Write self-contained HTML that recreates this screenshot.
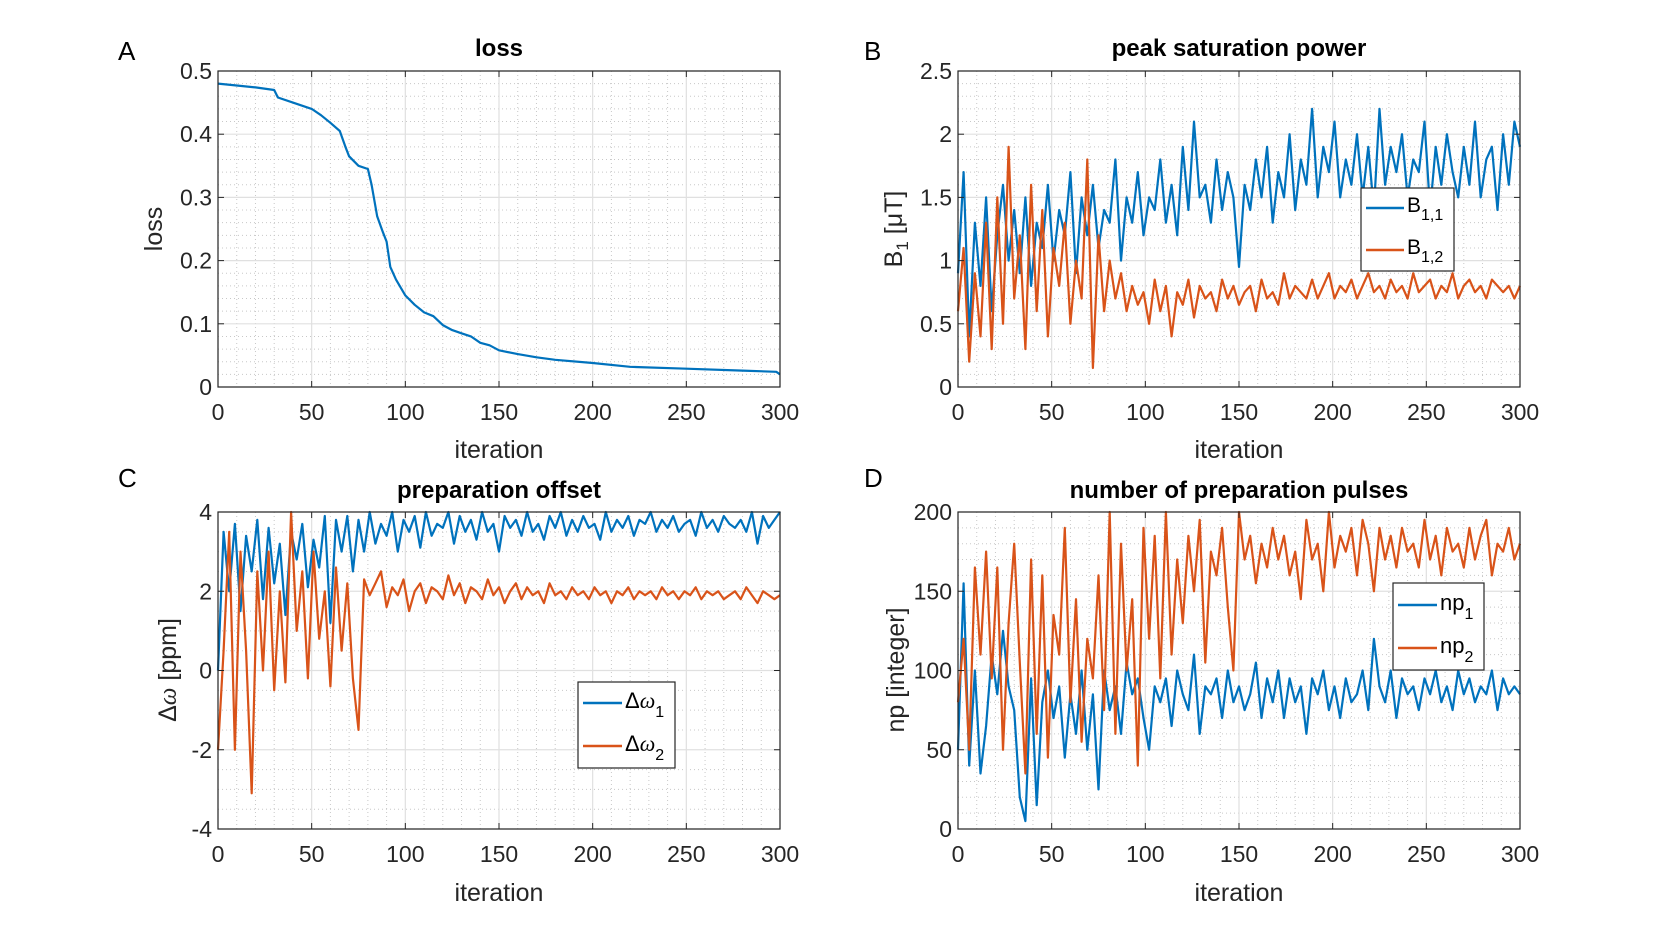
<!DOCTYPE html>
<html><head><meta charset="utf-8"><style>
body{margin:0;background:#fff;}
svg{display:block;font-family:"Liberation Sans",sans-serif;}
</style></head><body>
<svg id="fig" width="1680" height="933" viewBox="0 0 1680 933"></svg>
<script>
const lossIter=[0,10,20,30,32,40,50,55,60,65,68,70,75,80,82,85,88,90,92,95,100,105,110,115,120,125,130,135,140,145,150,160,170,180,200,220,250,280,298,300];
const lossVals=[0.48,0.477,0.474,0.47,0.458,0.45,0.44,0.43,0.418,0.405,0.38,0.365,0.35,0.345,0.32,0.27,0.245,0.23,0.19,0.17,0.145,0.13,0.118,0.112,0.098,0.09,0.085,0.08,0.07,0.066,0.058,0.052,0.047,0.043,0.038,0.032,0.029,0.026,0.024,0.02];
const b11=[0.9,1.7,0.4,1.3,0.8,1.5,0.6,1.2,1.6,1.0,1.4,0.9,1.5,0.8,1.3,1.1,1.6,1.0,1.4,1.2,1.7,0.9,1.5,1.2,1.6,1.1,1.4,1.3,1.8,1.0,1.5,1.3,1.7,1.2,1.5,1.4,1.8,1.3,1.6,1.2,1.9,1.4,2.1,1.5,1.6,1.3,1.8,1.4,1.7,1.5,0.95,1.6,1.4,1.8,1.5,1.9,1.3,1.7,1.5,2.0,1.4,1.8,1.6,2.2,1.5,1.9,1.7,2.1,1.5,1.8,1.6,2.0,1.5,1.9,1.4,2.2,1.6,1.9,1.7,2.0,1.5,1.8,1.7,2.1,1.4,1.9,1.6,2.0,1.7,1.5,1.9,1.6,2.1,1.5,1.8,1.9,1.4,2.0,1.6,2.1,1.9];
const b12=[0.6,1.1,0.2,0.9,0.4,1.3,0.3,1.5,0.5,1.9,0.7,1.2,0.3,1.6,0.6,1.4,0.4,1.1,0.8,1.3,0.5,1.0,0.7,1.8,0.15,1.2,0.6,1.0,0.7,0.9,0.6,0.8,0.65,0.75,0.5,0.85,0.6,0.8,0.4,0.75,0.65,0.85,0.55,0.8,0.7,0.75,0.6,0.85,0.7,0.8,0.65,0.75,0.8,0.6,0.85,0.7,0.75,0.65,0.9,0.7,0.8,0.75,0.7,0.85,0.7,0.8,0.9,0.7,0.8,0.75,0.85,0.7,0.8,0.9,0.75,0.8,0.7,0.85,0.75,0.8,0.7,0.9,0.75,0.8,0.85,0.7,0.8,0.75,0.9,0.7,0.8,0.85,0.75,0.8,0.7,0.85,0.8,0.75,0.8,0.7,0.8];
const dw1=[0,3.5,2.0,3.7,1.5,3.4,2.5,3.8,1.8,3.6,2.2,3.2,1.4,3.5,2.8,3.7,2.1,3.3,2.6,3.9,1.2,3.8,3.0,3.9,2.5,3.8,3.0,4.0,3.2,3.7,3.4,4.0,3.0,3.8,3.5,3.9,3.1,4.0,3.4,3.7,3.6,4.0,3.2,3.9,3.5,3.8,3.3,4.0,3.5,3.7,3.0,3.9,3.6,3.8,3.4,4.0,3.5,3.7,3.3,3.9,3.6,4.0,3.4,3.8,3.5,3.9,3.6,3.7,3.3,4.0,3.5,3.8,3.6,3.9,3.4,3.8,3.7,4.0,3.5,3.8,3.6,3.9,3.5,3.7,3.8,3.4,4.0,3.6,3.8,3.5,3.9,3.7,3.6,3.8,3.5,4.0,3.2,3.9,3.6,3.8,4.0];
const dw2=[-2,0.5,3.5,-2.0,3.0,0.5,-3.1,2.5,0.0,3.0,-0.5,2.0,-0.3,4.0,1.0,2.5,-0.2,3.0,0.8,2.0,-0.4,2.6,0.5,2.2,-0.2,-1.5,2.3,1.9,2.2,2.5,1.6,2.1,1.9,2.3,1.5,2.0,2.2,1.7,2.1,2.0,1.8,2.4,1.9,2.2,1.7,2.1,2.0,1.8,2.3,1.9,2.1,1.7,2.0,2.2,1.8,2.1,1.9,2.0,1.7,2.2,1.9,2.0,1.8,2.1,1.9,2.0,1.8,2.1,1.9,2.0,1.7,2.0,1.9,2.1,1.8,2.0,1.9,2.0,1.8,2.1,1.9,2.0,1.8,2.0,1.9,2.1,1.8,2.0,1.9,2.0,1.8,1.9,2.0,1.8,2.1,1.9,1.7,2.0,1.9,1.8,1.9];
const np1=[50,155,40,100,35,65,110,85,125,90,75,20,5,95,15,80,100,70,90,45,85,60,100,50,85,25,100,75,90,60,105,85,95,70,50,90,80,95,65,100,85,75,110,60,90,85,95,70,100,80,90,75,85,105,70,95,80,100,70,95,80,90,60,95,85,100,75,90,70,95,80,85,100,75,120,90,80,100,70,95,85,90,75,95,85,100,80,90,75,100,85,95,80,90,85,100,75,95,85,90,85];
const np2=[80,120,50,165,110,175,95,165,50,130,180,105,35,170,60,160,45,135,110,190,80,145,55,120,95,160,75,200,60,180,100,145,40,190,120,185,95,200,110,170,130,185,150,195,105,175,160,190,140,100,200,170,185,155,180,165,190,170,185,160,175,145,195,170,180,150,200,165,185,175,190,160,195,180,150,190,170,185,165,190,175,180,165,195,170,185,160,190,175,180,165,190,170,185,195,160,180,175,190,170,180];
const xTicks=[0,50,100,150,200,250,300];
const ticksA=[0,0.1,0.2,0.3,0.4,0.5];
const ticksB=[0,0.5,1,1.5,2,2.5];
const ticksC=[-4,-2,0,2,4];
const ticksD=[0,50,100,150,200];

const NS='http://www.w3.org/2000/svg';
const svg=document.getElementById('fig');
function mk(tag,attrs,parent){const e=document.createElementNS(NS,tag);for(const k in attrs)e.setAttribute(k,attrs[k]);(parent||svg).appendChild(e);return e;}
const BLUE='#0072BD',ORANGE='#D95319';

function panel(o){
  const g=mk('g',{});
  
  
  const L=o.x0,R=o.x1,T=o.y0,B=o.y1;
  const ymin=o.yt[0],ymax=o.yt[o.yt.length-1];
  const sx=v=>L+(v/300)*(R-L);
  const sy=v=>B-(v-ymin)/(ymax-ymin)*(B-T);
  for(let v=10;v<300;v+=10){if(v%50)mk('line',{x1:sx(v),x2:sx(v),y1:T,y2:B,stroke:'#c8c8c8','stroke-width':1,'stroke-dasharray':'1,3'},g);}
  for(let v=ymin+o.minor;v<ymax-1e-9;v+=o.minor){if(Math.abs(((v-ymin)/o.major)-Math.round((v-ymin)/o.major))>1e-6)mk('line',{x1:L,x2:R,y1:sy(v),y2:sy(v),stroke:'#c8c8c8','stroke-width':1,'stroke-dasharray':'1,3'},g);}
  xTicks.forEach(v=>{mk('line',{x1:sx(v),x2:sx(v),y1:T,y2:B,stroke:'#e0e0e0','stroke-width':1.2},g);});
  o.yt.forEach(v=>{mk('line',{x1:L,x2:R,y1:sy(v),y2:sy(v),stroke:'#e0e0e0','stroke-width':1.2},g);});
  o.series.forEach(s=>{
    const xs=s.x||s.y.map((_,i)=>i*300/(s.y.length-1));
    const p=mk('polyline',{points:s.y.map((v,i)=>sx(xs[i]).toFixed(1)+','+sy(v).toFixed(1)).join(' '),fill:'none',stroke:s.c,'stroke-width':2.2,'stroke-linejoin':'round'},g);
    
    
  });
  mk('rect',{x:L,y:T,width:R-L,height:B-T,fill:'none',stroke:'#262626','stroke-width':1.2},g);
  xTicks.forEach(v=>{
    mk('line',{x1:sx(v),x2:sx(v),y1:B,y2:B-6,stroke:'#262626'},g);
    mk('line',{x1:sx(v),x2:sx(v),y1:T,y2:T+6,stroke:'#262626'},g);
    const t=mk('text',{x:sx(v),y:B+33,'text-anchor':'middle','font-size':23,fill:'#262626'},g);t.textContent=v;
    
    
  });
  o.yt.forEach(v=>{
    mk('line',{x1:L,x2:L+6,y1:sy(v),y2:sy(v),stroke:'#262626'},g);
    mk('line',{x1:R,x2:R-6,y1:sy(v),y2:sy(v),stroke:'#262626'},g);
    const t=mk('text',{x:L-6,y:sy(v)+8,'text-anchor':'end','font-size':23,fill:'#262626'},g);t.textContent=v;
    
    
  });
}
panel({id:'loss',x0:218,x1:780,y0:71,y1:387,yt:ticksA,major:0.1,minor:0.02,series:[{name:'loss',x:lossIter,y:lossVals,c:BLUE}]});
panel({id:'power',x0:958,x1:1520,y0:71,y1:387,yt:ticksB,major:0.5,minor:0.1,series:[{name:'b11',y:b11,c:BLUE},{name:'b12',y:b12,c:ORANGE}]});
panel({id:'offset',x0:218,x1:780,y0:512,y1:829,yt:ticksC,major:2,minor:0.5,series:[{name:'dw1',y:dw1,c:BLUE},{name:'dw2',y:dw2,c:ORANGE}]});
panel({id:'pulses',x0:958,x1:1520,y0:512,y1:829,yt:ticksD,major:50,minor:10,series:[{name:'np1',y:np1,c:BLUE},{name:'np2',y:np2,c:ORANGE}]});
</script>
<svg width="1680" height="933" style="position:absolute;left:0;top:0">
<g font-family="Liberation Sans, sans-serif" fill="#000">
<text x="118" y="60" font-size="26">A</text>
<text x="864" y="60" font-size="26">B</text>
<text x="118" y="487" font-size="26">C</text>
<text x="864" y="487" font-size="26">D</text>
<g font-weight="bold" font-size="24" text-anchor="middle">
<text x="499" y="56">loss</text>
<text x="1239" y="56">peak saturation power</text>
<text x="499" y="498">preparation offset</text>
<text x="1239" y="498">number of preparation pulses</text>
</g>
<g font-size="25" text-anchor="middle" fill="#262626">
<text x="499" y="458">iteration</text>
<text x="1239" y="458">iteration</text>
<text x="499" y="901">iteration</text>
<text x="1239" y="901">iteration</text>
<text transform="translate(162,229) rotate(-90)">loss</text>
<text transform="translate(902,229) rotate(-90)">B<tspan font-size="17" dy="6">1</tspan><tspan dy="-6"> [μT]</tspan></text>
<text transform="translate(176,670) rotate(-90)">Δ<tspan font-family="Liberation Serif, serif" font-style="italic">ω</tspan> [ppm]</text>
<text transform="translate(904,670) rotate(-90)">np [integer]</text>
</g>
<g font-size="21">
<rect x="1361" y="188" width="93" height="83" fill="#fff" stroke="#262626" stroke-width="1.2"/>
<line x1="1366" y1="208" x2="1404" y2="208" stroke="#0072BD" stroke-width="2.5"/>
<text x="1407" y="212">B<tspan font-size="16" dy="8">1,1</tspan></text>
<line x1="1366" y1="250" x2="1404" y2="250" stroke="#D95319" stroke-width="2.5"/>
<text x="1407" y="254">B<tspan font-size="16" dy="8">1,2</tspan></text>
</g>
<g font-size="22">
<rect x="578" y="682" width="97" height="86" fill="#fff" stroke="#262626" stroke-width="1.2"/>
<line x1="583" y1="703" x2="622" y2="703" stroke="#0072BD" stroke-width="2.5"/>
<text x="625" y="708">Δ<tspan font-family="Liberation Serif, serif" font-style="italic">ω</tspan><tspan font-size="16" dy="9">1</tspan></text>
<line x1="583" y1="746" x2="622" y2="746" stroke="#D95319" stroke-width="2.5"/>
<text x="625" y="751">Δ<tspan font-family="Liberation Serif, serif" font-style="italic">ω</tspan><tspan font-size="16" dy="9">2</tspan></text>
</g>
<g font-size="22">
<rect x="1393" y="583" width="91" height="87" fill="#fff" stroke="#262626" stroke-width="1.2"/>
<line x1="1398" y1="605" x2="1437" y2="605" stroke="#0072BD" stroke-width="2.5"/>
<text x="1440" y="610">np<tspan font-size="16" dy="9">1</tspan></text>
<line x1="1398" y1="648" x2="1437" y2="648" stroke="#D95319" stroke-width="2.5"/>
<text x="1440" y="653">np<tspan font-size="16" dy="9">2</tspan></text>
</g>
</g>
</svg>
</body></html>
